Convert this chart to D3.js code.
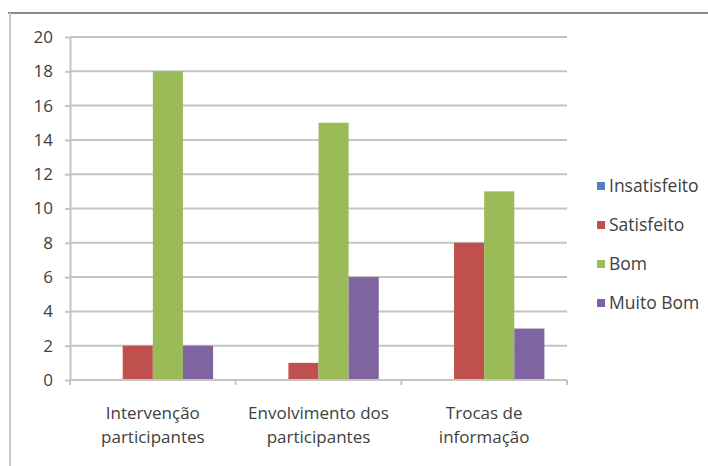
<!DOCTYPE html>
<html><head><meta charset="utf-8">
<script src="https://cdn.jsdelivr.net/npm/d3@7"></script>
<style>body{margin:0;background:#fff}svg{display:block}</style>
</head><body>
<svg id="c" width="708" height="466"></svg>
<script>
const categories = [["Intervenção","participantes"],["Envolvimento dos","participantes"],["Trocas de","informação"]];
const seriesNames = ["Insatisfeito","Satisfeito","Bom","Muito Bom"];
const insatisfeito = [0,0,0];
const satisfeito = [2,1,8];
const bom = [18,15,11];
const muitoBom = [2,6,3];
const yTicks = [0,2,4,6,8,10,12,14,16,18,20];
const colors = ["#4F81BD","#C0504D","#9BBB59","#8064A2"];
const seriesValues = [insatisfeito, satisfeito, bom, muitoBom];

(function(){
const svg = d3.select("#c");
const font = "'Open Sans', sans-serif";
const pLeft = 70, pRight = 567, pTop = 37, pBottom = 380;

// frame
svg.append("line").attr("x1",8).attr("x2",708).attr("y1",13).attr("y2",13).attr("stroke","#8c8c8c").attr("stroke-width",2);
svg.append("line").attr("x1",10).attr("x2",10).attr("y1",13).attr("y2",466).attr("stroke","#c8c8c8").attr("stroke-width",2);

const y = d3.scaleLinear().domain([0,20]).range([pBottom, pTop]);
const x0 = d3.scaleBand().domain(d3.range(categories.length)).range([pLeft, pRight]).paddingInner(0).paddingOuter(0);
const x1 = d3.scaleBand().domain(d3.range(seriesNames.length)).range([0, x0.bandwidth()]).paddingInner(0).paddingOuter(0.75);

// gridlines
svg.append("g").selectAll("line").data(yTicks.filter(d=>d>0)).join("line")
  .attr("x1",pLeft).attr("x2",pRight).attr("y1",d=>y(d)).attr("y2",d=>y(d))
  .attr("stroke","#c4c4c4").attr("stroke-width",2);

// y axis
const yAxis = svg.append("g").attr("transform",`translate(${pLeft},0)`)
  .call(d3.axisLeft(y).tickValues(yTicks).tickSize(5).tickPadding(12).tickSizeOuter(0));
yAxis.select(".domain").attr("stroke","#c4c4c4").attr("stroke-width",2);
yAxis.selectAll(".tick line").attr("stroke","#c4c4c4").attr("stroke-width",2);
yAxis.selectAll("text").attr("font-family",font).attr("font-size",17).attr("fill","#404040");

// bars
const groups = svg.append("g").selectAll("g").data(seriesValues).join("g").attr("fill",(d,i)=>colors[i]);
groups.each(function(vals, si){
  d3.select(this).selectAll("rect").data(vals).join("rect")
    .attr("x",(v,ci)=>x0(ci)+x1(si))
    .attr("width",x1.bandwidth())
    .attr("y",v=>y(v))
    .attr("height",v=>y(0)-y(v));
});

// x axis
const xAxis = svg.append("g").attr("transform",`translate(0,${pBottom})`);
xAxis.append("line").attr("x1",pLeft).attr("x2",pRight).attr("stroke","#c4c4c4").attr("stroke-width",2);
xAxis.selectAll("line.t").data(d3.range(categories.length+1)).join("line").attr("class","t")
  .attr("x1",i=>i<categories.length?x0(i):pRight).attr("x2",i=>i<categories.length?x0(i):pRight)
  .attr("y1",0).attr("y2",5).attr("stroke","#c4c4c4").attr("stroke-width",2);
const xl = xAxis.selectAll("text").data(categories).join("text")
  .attr("text-anchor","middle").attr("font-family",font).attr("font-size",17).attr("fill","#404040");
xl.each(function(lines, i){
  d3.select(this).selectAll("tspan").data(lines).join("tspan")
    .attr("x", x0(i)+x0.bandwidth()/2).attr("y",(d,j)=>39+j*24).text(d=>d);
});

// legend
const lg = svg.append("g").selectAll("g").data(seriesNames).join("g")
  .attr("transform",(d,i)=>`translate(597,${186+i*39})`);
lg.append("rect").attr("x",0).attr("y",-4).attr("width",8).attr("height",8).attr("fill",(d,i)=>colors[i]);
lg.append("text").attr("x",12).attr("y",0).attr("dy","0.35em").attr("font-family",font).attr("font-size",17.5)
  .attr("fill","#404040").text(d=>d);
})();
</script>
</body></html>
